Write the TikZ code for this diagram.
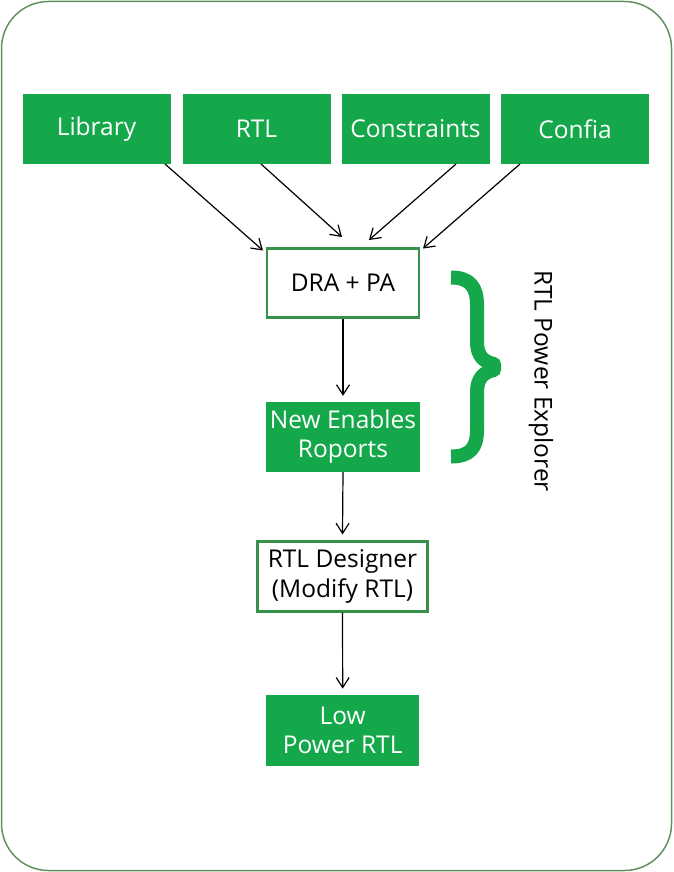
\documentclass[tikz,border=0pt]{standalone}
\usepackage{fontspec}
\setmainfont{Open Sans}
\usetikzlibrary{arrows.meta}
\definecolor{boxgreen}{RGB}{21,168,75}
\definecolor{edgegreen}{RGB}{55,145,75}
\definecolor{framegreen}{RGB}{95,145,95}
\tikzset{
  gbox/.style={fill=boxgreen, draw=none, text=white, minimum width=148pt, minimum height=70pt, inner sep=0pt, align=center, font=\fontsize{24.5}{29}\selectfont},
  wbox/.style={fill=white, draw=edgegreen, line width=2.2pt, text=black, inner sep=0pt, align=center, font=\fontsize{24.5}{29.5}\selectfont},
  conn/.style={draw=black, line width=1.2pt, -{Straight Barb[length=10pt,width=13pt,line width=1.2pt]}},
}
\begin{document}
\begin{tikzpicture}[x=1pt,y=-1pt]
\useasboundingbox (0,0) rectangle (673,872);
\draw[framegreen, line width=1.5pt, rounded corners=47pt] (1.5,1.5) rectangle (671.5,870.5);

\node[gbox] (lib) at (96.5,129) {Library};
\node[gbox] (rtl) at (256.5,129) {RTL};
\node[gbox] (con) at (415.5,129) {Constraints};
\node[gbox] (cfg) at (575,129) {Confia};

\node[wbox, minimum width=152pt, minimum height=69pt] (dra) at (343,283) {DRA + PA};
\node[gbox, minimum width=154pt, minimum height=70pt] (nen) at (343,437) {New Enables\\Roports};
\node[wbox, minimum width=170pt, minimum height=70pt] (rtld) at (342.5,576.5) {RTL Designer\\(Modify RTL)};
\node[gbox, minimum width=153pt, minimum height=71pt] (low) at (342.7,730.3) {Low\\Power RTL};

\node[rotate=-90, text=black, font=\fontsize{24.5}{29}\selectfont] (rpe) at (541,381) {RTL Power Explorer};

% arrow end coordinates
\coordinate (e1) at (263,250.5);
\coordinate (e2) at (342,237);
\coordinate (e3) at (369,240);
\coordinate (e4) at (423,248.5);
\coordinate (s1) at (165,164);
\coordinate (s2) at (261,164);
\coordinate (s3) at (456,164);
\coordinate (s4) at (520,164);

\draw[conn] (s1) -- (e1);
\draw[conn] (s2) -- (e2);
\draw[conn] (s3) -- (e3);
\draw[conn] (s4) -- (e4);

\draw[conn] (dra.south) -- ([yshift=6pt]nen.north);
\draw[conn] (nen.south) -- ([yshift=6pt]rtld.north);
\draw[conn] (rtld.south) -- ([yshift=6pt]low.north);

% brace
\draw[boxgreen, line width=14pt, line join=round]
  (451,277.5) .. controls (470,277.5) and (477,287) .. (477,305)
  -- (477,342) .. controls (477,356) and (484,362) .. (494,364)
  -- (494,370) .. controls (484,372) and (477,378) .. (477,392)
  -- (477,430) .. controls (477,448) and (470,456.5) .. (451,456.5);
\end{tikzpicture}
\end{document}
